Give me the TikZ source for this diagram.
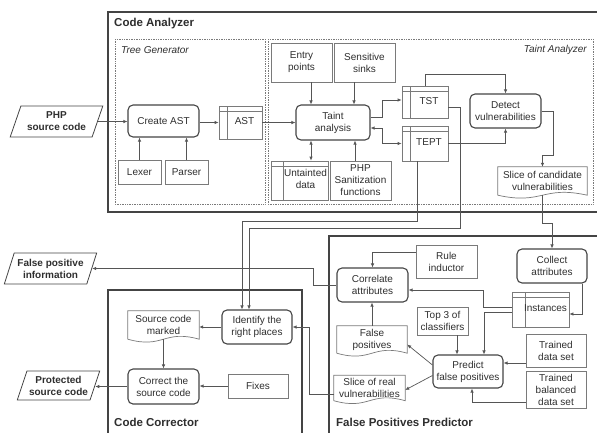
\documentclass[tikz,border=0pt]{standalone}
\usepackage{fontspec}
\setmainfont{Liberation Sans}
\usetikzlibrary{arrows.meta,shapes.geometric,calc}
\definecolor{ln}{HTML}{555555}
\definecolor{bx}{HTML}{444444}
\definecolor{dt}{HTML}{7A7A7A}
\definecolor{tx}{HTML}{2E2E2E}
\newcommand{\tabtext}[2]{\hspace*{#1}\begin{tabular}{@{}c@{}}#2\end{tabular}}
\newcommand{\docframe}[1]{\draw[dataline] (#1.south west) -- (#1.north west) -- (#1.north east) -- (#1.south east) .. controls ($(#1.south west)!0.5!(#1.south east)+(0,10pt)$) and ($(#1.south west)!0.5!(#1.south east)+(0,-10pt)$) .. (#1.south west);}
\tikzset{
  sz/.style 2 args={minimum width=#1pt, minimum height=#2pt},
  proc/.style={draw=bx, line width=1.1pt, rounded corners=5pt, align=center, inner sep=1pt},
  dataline/.style={draw=dt, line width=0.7pt},
  dat/.style={draw=dt, line width=0.7pt, align=center, inner sep=1pt},
  tablebox/.style={dat, path picture={
      \draw[dataline] ([xshift=#1]path picture bounding box.north west) -- ([xshift=#1]path picture bounding box.south west);
      \draw[dataline] ([yshift=-5pt]path picture bounding box.north west) -- ([yshift=-5pt]path picture bounding box.north east);}},
  tablebox/.default=8pt,
  doc/.style={align=center, inner sep=1pt},
  io/.style={trapezium, trapezium left angle=65, trapezium right angle=115, trapezium stretches=true,
      draw=bx, line width=0.8pt, align=center, inner sep=0pt, font=\bfseries\fontsize{10}{12}\selectfont},
  arr/.style={draw=ln, line width=0.7pt, -{Latex[length=4pt,width=3.5pt]}},
  arr2/.style={draw=ln, line width=0.7pt, {Latex[length=4pt,width=3.5pt]}-{Latex[length=4pt,width=3.5pt]}},
  outer/.style={draw=bx, line width=1.4pt},
  dotbox/.style={draw=dt, line width=0.7pt, densely dotted},
  boldlabel/.style={font=\bfseries\fontsize{11.5}{13}\selectfont, anchor=west, inner sep=0pt},
  itlabel/.style={font=\itshape\fontsize{10}{12}\selectfont, inner sep=0pt}
}
\begin{document}
\begin{tikzpicture}[x=1pt, y=-1pt, font=\fontsize{10}{12}\selectfont, text=tx]
\useasboundingbox (0,0) rectangle (597,432);
% frames
\draw[outer] (600,12) -- (108,12) -- (108,212) -- (600,212);
\draw[outer] (108,440) -- (108,290) -- (302,290) -- (302,440);
\draw[outer] (329,440) -- (329,236) -- (600,236);
\draw[dotbox] (115,39) rectangle (265,204);
\draw[dotbox] (268,39) rectangle (593,204);
\node[boldlabel] (lca) at (114,24) {Code Analyzer};
\node[itlabel, anchor=west] (ltg) at (121,50) {Tree Generator};
\node[itlabel, anchor=east] (lta) at (587,50) {Taint Analyzer};
\node[boldlabel] (lcc) at (114,422) {Code Corrector};
\node[boldlabel] (lfp) at (336,422) {False Positives Predictor};
% Code Analyzer nodes
\node[io, minimum width=93pt, minimum height=31pt] (php) at (56.5,121.5) {PHP\\source code};
\node[proc, sz={71}{32}] (cast) at (163.5,121) {Create AST};
\node[tablebox=8pt, sz={43}{33}] (ast) at (240.5,122.5) {\tabtext{8pt}{AST}};
\node[dat, sz={43}{24}] (lexer) at (139.5,172) {Lexer};
\node[dat, sz={43}{24}] (parser) at (186.5,172) {Parser};
\node[dat, sz={61}{39}] (entry) at (301.5,62.5) {Entry\\points};
\node[dat, sz={61}{39}] (sinks) at (364.5,62.5) {Sensitive\\sinks};
\node[proc, sz={74}{35}] (taint) at (333,122.5) {Taint\\analysis};
\node[tablebox=12pt, sz={57}{39}] (untainted) at (299.5,180.5) {\tabtext{12pt}{Untainted\\data}};
\node[dat, sz={61}{39}] (phpsan) at (360.5,180.5) {PHP\\Sanitization\\functions};
\node[tablebox, sz={46}{32}] (tst) at (425,102) {\tabtext{8pt}{TST}};
\node[tablebox, sz={46}{35}] (tept) at (425,143.5) {\tabtext{8pt}{TEPT}};
\node[proc, sz={71}{34}] (detect) at (505.5,111) {Detect\\vulnerabilities};
\node[doc, sz={89}{28}] (slicec) at (542.5,181) {Slice of candidate\\vulnerabilities};
\docframe{slicec}
% Code Corrector nodes
\node[proc, sz={70}{34}] (identify) at (257,327) {Identify the\\right places};
\node[doc, sz={71}{28}] (scm) at (163.5,325) {Source code\\marked};
\docframe{scm}
\node[proc, sz={71}{35}] (correct) at (163.5,386.5) {Correct the\\source code};
\node[dat, sz={60}{24}] (fixes) at (258,386) {Fixes};
\node[io, minimum width=83pt, minimum height=29pt] (prot) at (58.5,385.5) {Protected\\source code};
\node[io, minimum width=93pt, minimum height=31pt] (fpi) at (50.5,268.5) {False positive\\information};
% False Positives Predictor nodes
\node[proc, sz={70}{34}] (collect) at (552,266) {Collect\\attributes};
\node[proc, sz={71}{34}] (correl) at (372.5,285) {Correlate\\attributes};
\node[dat, sz={61}{33}] (rule) at (446.5,261.5) {Rule\\inductor};
\node[tablebox=13pt, sz={57}{35}] (inst) at (540.5,309.5) {\tabtext{10pt}{Instances}};
\node[dat, sz={51}{28}] (top3) at (442.5,321) {Top 3 of\\classifiers};
\node[proc, sz={70}{33}] (predict) at (468,371.5) {Predict\\false positives};
\node[dat, sz={60}{33}] (trained) at (556,350.5) {Trained\\data set};
\node[dat, sz={60}{37}] (balanced) at (556,389.5) {Trained\\balanced\\data set};
\node[doc, sz={70}{27}] (fp) at (372,339.5) {False\\positives};
\docframe{fp}
\node[doc, sz={71}{25}] (slicer) at (369.5,388) {Slice of real\\vulnerabilities};
\docframe{slicer}
% connectors
\draw[arr] (php.east) -- (php.east -| cast.west);
\draw[arr] (cast.east |- ast.west) -- (ast.west);
\draw[arr] (lexer.north) -- (lexer.north |- cast.south);
\draw[arr] (parser.north) -- (parser.north |- cast.south);
\draw[arr] (ast.east) -- (taint.west);
\draw[arr] ([xshift=9.5pt]entry.south) -- ([xshift=9.5pt]entry.south |- taint.north);
\draw[arr] ([xshift=-10.5pt]sinks.south) -- ([xshift=-10.5pt]sinks.south |- taint.north);
\draw[arr2] ([xshift=11.5pt]untainted.north) -- ([xshift=11.5pt]untainted.north |- taint.south);
\draw[arr] ([xshift=-5.5pt]phpsan.north) -- ([xshift=-5.5pt]phpsan.north |- taint.south);
\draw[arr] ([yshift=5.5pt]taint.east) -- ++(12,0) |- ([yshift=2pt]tst.west);
\draw[arr2] ([yshift=-5.5pt]taint.east) -- ++(12,0) |- (tept.west);
\draw[arr] (tst.north) -- ++(0,-11) -| (detect.north);
\draw[arr] (tept.east) -| (detect.south);
\draw[arr] (detect.east) -- ++(12,0) -- ++(0,44) -| (slicec.north);
\draw[arr] (slicec.south) -- ++(0,28) -| (collect.north);
\draw[arr] ([xshift=-8pt]tept.south) -- ++(0,60) -| ([xshift=-15pt]identify.north);
\draw[arr] ([yshift=-5pt]tst.east) -- ++(12,0) -- ++(0,121) -| ([xshift=-8pt]identify.north);
\draw[arr] (identify.west) -- (identify.west -| scm.east);
\draw[arr] (scm.south) -- (scm.south |- correct.north);
\draw[arr] (fixes.west) -- (fixes.west -| correct.east);
\draw[arr] (correct.west) -- (correct.west -| prot.east);
\draw[arr] (correl.west) -- ++(-23,0) |- (fpi.east);
\draw[arr] ([yshift=9.5pt]rule.west) -| (correl.north);
\draw[arr] ([xshift=30pt]collect.south) |- ([yshift=-4.5pt]inst.east);
\draw[arr] ([yshift=2.5pt]inst.west) -- ++(-28,0) |- ([yshift=-5pt]correl.east);
\draw[arr] ([yshift=-2.5pt]inst.west) -| ([xshift=16pt]predict.north);
\draw[arr] ([xshift=14.5pt]top3.south) -- ([xshift=14.5pt]top3.south |- predict.north);
\draw[arr] ([yshift=-12.5pt]trained.west) -- ([yshift=-12.5pt]trained.west -| predict.east);
\draw[arr] ([yshift=-12.5pt]balanced.west) -| ([xshift=4pt]predict.south);
\draw[arr] (fp.north) -- (fp.north |- correl.south);
\draw[arr] ([yshift=6.5pt]predict.west) -- ([yshift=-5pt]fp.east);
\draw[arr] ([yshift=-4pt]predict.west) -- ([yshift=-2pt]slicer.east);
\draw[arr] ([yshift=-6pt]slicer.west) -- ++(-24,0) |- (identify.east);
\end{tikzpicture}
\end{document}
